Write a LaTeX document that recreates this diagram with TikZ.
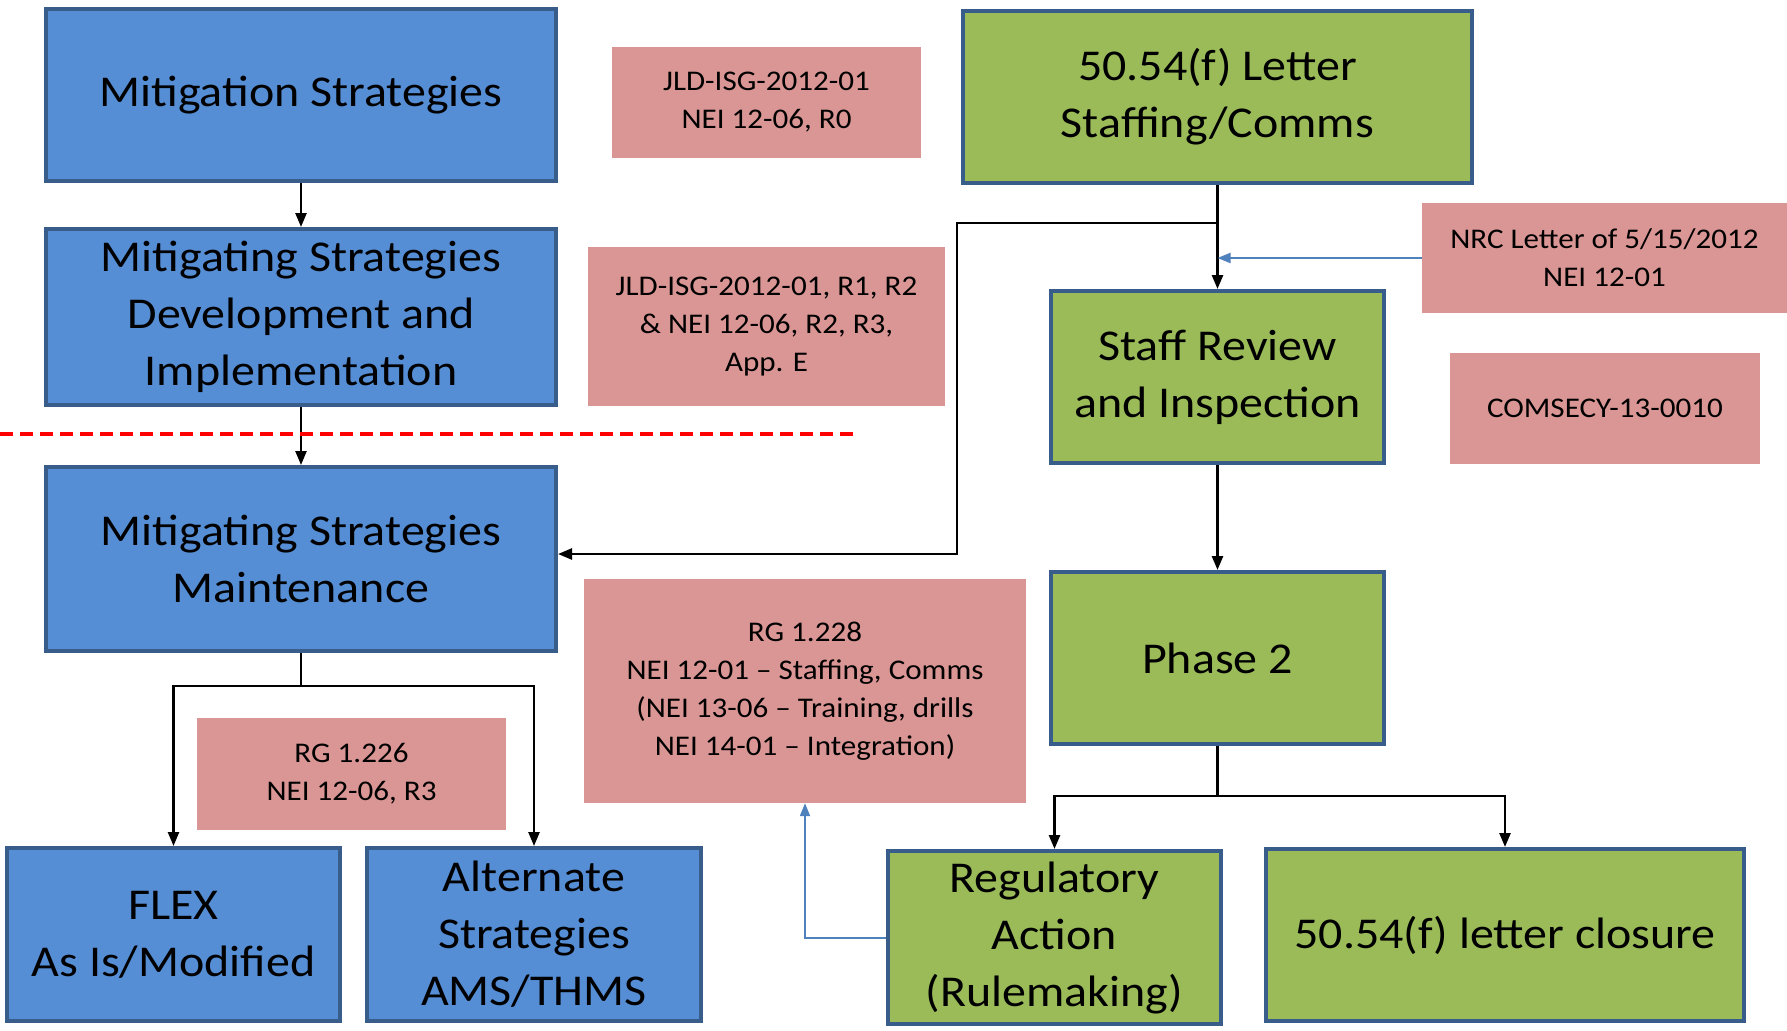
\documentclass[tikz,border=0pt]{standalone}
\usepackage{fontspec}
\setmainfont{Carlito}[FakeStretch=1.09]
\usetikzlibrary{positioning,calc,arrows.meta}
\definecolor{cBlue}{RGB}{85,142,213}
\definecolor{cGreen}{RGB}{155,187,89}
\definecolor{cEdge}{RGB}{56,93,138}
\definecolor{cRef}{RGB}{217,150,148}
\definecolor{cLink}{RGB}{79,129,189}

\begin{document}
\begin{tikzpicture}[
  x=1pt, y=-1pt,
  stage/.style = {draw=cEdge, line width=4pt, align=center, inner sep=0pt,
                  font=\fontsize{44}{57}\selectfont},
  plan/.style  = {stage, fill=cBlue},
  nrc/.style   = {stage, fill=cGreen},
  ref/.style   = {fill=cRef, align=center, inner sep=0pt,
                  font=\fontsize{28.5}{38}\selectfont},
  flow/.style  = {-{Triangle[length=14pt, width=11pt]}, line width=2.5pt},
  link/.style  = {-{Triangle[length=13pt, width=10pt]}, draw=cLink, line width=2pt},
  cut/.style   = {draw=red, line width=4pt, dash pattern=on 13pt off 7pt}
]
\path[fill=white, use as bounding box] (0,0) rectangle (1787,1030);

% ------------------------------------------------------ mitigating strategies --
\node[plan, minimum width=510pt, minimum height=172pt] (ms)   at (301,95)
  {Mitigation Strategies};
\node[plan, minimum width=510pt, minimum height=176pt] (msdi) at (301,317)
  {Mitigating Strategies\\Development and\\Implementation};
\node[plan, minimum width=510pt, minimum height=184pt] (msm)  at (301,559)
  {Mitigating Strategies\\Maintenance};
\node[plan, minimum width=333pt, minimum height=173pt] (flex) at (173.5,934.5)
  {FLEX\\As Is/Modified};
\node[plan, minimum width=334pt, minimum height=173pt] (alt)  at (534,934.5)
  {Alternate\\Strategies\\AMS/THMS};

% ----------------------------------------------------------- 50.54(f) letter --
\node[nrc, minimum width=509pt, minimum height=172pt] (letter) at (1217.5,97)
  {50.54(f) Letter\\Staffing/Comms};
\node[nrc, minimum width=333pt, minimum height=172pt] (staff)  at (1217.5,377)
  {Staff Review\\and Inspection};
\node[nrc, minimum width=333pt, minimum height=172pt] (phase)  at (1217.5,658)
  {Phase 2};
\node[nrc, minimum width=333pt, minimum height=173pt] (reg)    at (1054.5,937.5)
  {Regulatory\\Action\\(Rulemaking)};
\node[nrc, minimum width=478pt, minimum height=172pt] (close)  at (1505,935)
  {50.54(f) letter closure};

% ---------------------------------------------------------------- documents --
\node[ref, minimum width=309pt, minimum height=111pt] (jld1)  at (766.5,102.5)
  {JLD-ISG-2012-01\\NEI 12-06, R0};
\node[ref, minimum width=357pt, minimum height=159pt] (jld2)  at (766.5,326.5)
  {JLD-ISG-2012-01, R1, R2\\\& NEI 12-06, R2, R3,\\App. E};
\node[ref, minimum width=365pt, minimum height=110pt] (nrcl)  at (1604.5,258)
  {NRC Letter of 5/15/2012\\NEI 12-01};
\node[ref, minimum width=310pt, minimum height=111pt] (com)   at (1605,408.5)
  {COMSECY-13-0010};
\node[ref, minimum width=442pt, minimum height=224pt] (rg228) at (805,691)
  {RG 1.228\\NEI 12-01 \textendash{} Staffing, Comms\\(NEI 13-06 \textendash{} Training, drills\\NEI 14-01 \textendash{} Integration)};
\node[ref, minimum width=309pt, minimum height=112pt] (rg226) at (351.5,774)
  {RG 1.226\\NEI 12-06, R3};

% ------------------------------------------------------------------- arrows --
\draw[flow] (ms) -- (msdi);
\draw[flow] (msdi) -- (msm);
\draw[cut] (0,434) -- (857,434);

\coordinate (fork1) at (301,686);
\draw[line width=2.5pt] (msm) -- (fork1);
\draw[flow] (fork1) -| (flex);
\draw[flow] (fork1) -| (alt);

\draw[flow] (letter) -- (staff);
\coordinate (tap)  at (1217.5,223);
\coordinate (bend) at (957,223);
\draw[flow] (tap) -- (bend) |- ([yshift=5pt]msm.east);
\draw[link] (nrcl.west) -- (nrcl.west -| letter.south);

\draw[flow] (staff) -- (phase);
\coordinate (fork2) at (1217.5,796);
\draw[line width=2.5pt] (phase) -- (fork2);
\draw[flow] (fork2) -| (reg);
\draw[flow] (fork2) -| (close);

\draw[link] (reg.west) -| (rg228);

\end{tikzpicture}
\end{document}
